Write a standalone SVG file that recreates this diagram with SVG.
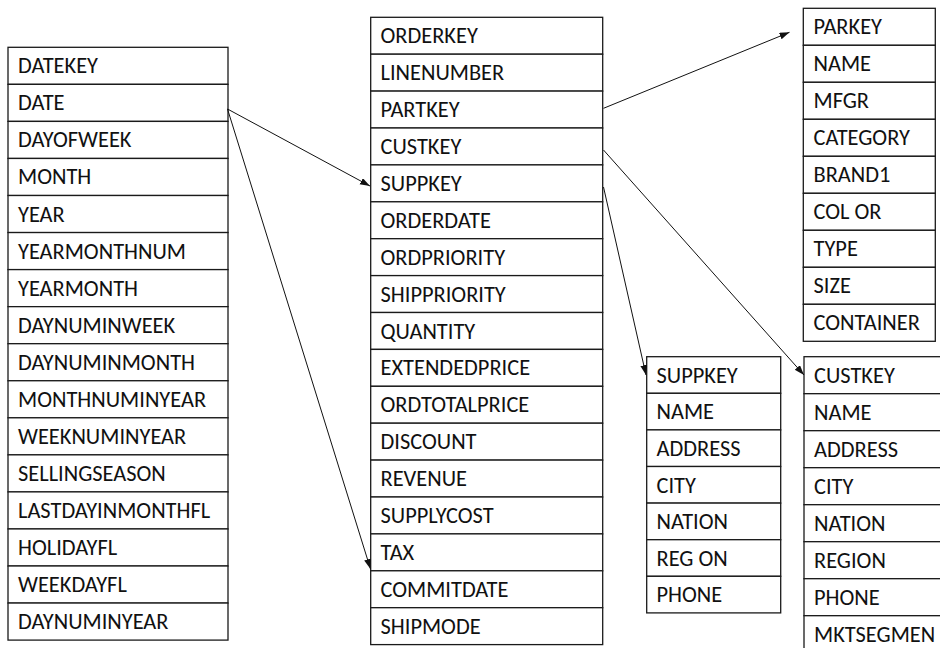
<svg xmlns="http://www.w3.org/2000/svg" width="940" height="648" viewBox="0 0 940 648">
<style>
.row{fill:#ffffff;stroke:#1a1a1a;stroke-width:1.3}
.t{font-family:Carlito,"Liberation Sans",Arial,sans-serif;font-size:22.4px;fill:#111}
.c{stroke:#111;stroke-width:1;fill:none;marker-end:url(#ah)}
</style>
<defs>
<marker id="ah" markerUnits="userSpaceOnUse" markerWidth="11" markerHeight="8" refX="10" refY="3.5" orient="auto">
<path d="M0,0 L10,3.5 L0,7 z" fill="#111"/>
</marker>
</defs>
<rect width="940" height="648" fill="#ffffff"/>
<g id="date">
<rect class="row" x="8" y="47.3" width="220" height="37.05"/><text class="t" x="18" y="73.3">DATEKEY</text>
<rect class="row" x="8" y="84.35" width="220" height="37.05"/><text class="t" x="18" y="110.35">DATE</text>
<rect class="row" x="8" y="121.4" width="220" height="37.05"/><text class="t" x="18" y="147.4">DAYOFWEEK</text>
<rect class="row" x="8" y="158.45" width="220" height="37.05"/><text class="t" x="18" y="184.45">MONTH</text>
<rect class="row" x="8" y="195.5" width="220" height="37.05"/><text class="t" x="18" y="221.5">YEAR</text>
<rect class="row" x="8" y="232.55" width="220" height="37.05"/><text class="t" x="18" y="258.55">YEARMONTHNUM</text>
<rect class="row" x="8" y="269.6" width="220" height="37.05"/><text class="t" x="18" y="295.6">YEARMONTH</text>
<rect class="row" x="8" y="306.65" width="220" height="37.05"/><text class="t" x="18" y="332.65">DAYNUMINWEEK</text>
<rect class="row" x="8" y="343.7" width="220" height="37.05"/><text class="t" x="18" y="369.7">DAYNUMINMONTH</text>
<rect class="row" x="8" y="380.75" width="220" height="37.05"/><text class="t" x="18" y="406.75">MONTHNUMINYEAR</text>
<rect class="row" x="8" y="417.8" width="220" height="37.05"/><text class="t" x="18" y="443.8">WEEKNUMINYEAR</text>
<rect class="row" x="8" y="454.85" width="220" height="37.05"/><text class="t" x="18" y="480.85">SELLINGSEASON</text>
<rect class="row" x="8" y="491.9" width="220" height="37.05"/><text class="t" x="18" y="517.9">LASTDAYINMONTHFL</text>
<rect class="row" x="8" y="528.95" width="220" height="37.05"/><text class="t" x="18" y="554.95">HOLIDAYFL</text>
<rect class="row" x="8" y="566" width="220" height="37.05"/><text class="t" x="18" y="592">WEEKDAYFL</text>
<rect class="row" x="8" y="603.05" width="220" height="37.05"/><text class="t" x="18" y="629.05">DAYNUMINYEAR</text>
</g>
<g id="lineorder">
<rect class="row" x="370.7" y="17.3" width="232" height="36.9"/><text class="t" x="380.5" y="43.3">ORDERKEY</text>
<rect class="row" x="370.7" y="54.2" width="232" height="36.9"/><text class="t" x="380.5" y="80.2">LINENUMBER</text>
<rect class="row" x="370.7" y="91.1" width="232" height="36.9"/><text class="t" x="380.5" y="117.1">PARTKEY</text>
<rect class="row" x="370.7" y="128" width="232" height="36.9"/><text class="t" x="380.5" y="154">CUSTKEY</text>
<rect class="row" x="370.7" y="164.9" width="232" height="36.9"/><text class="t" x="380.5" y="190.9">SUPPKEY</text>
<rect class="row" x="370.7" y="201.8" width="232" height="36.9"/><text class="t" x="380.5" y="227.8">ORDERDATE</text>
<rect class="row" x="370.7" y="238.7" width="232" height="36.9"/><text class="t" x="380.5" y="264.7">ORDPRIORITY</text>
<rect class="row" x="370.7" y="275.6" width="232" height="36.9"/><text class="t" x="380.5" y="301.6">SHIPPRIORITY</text>
<rect class="row" x="370.7" y="312.5" width="232" height="36.9"/><text class="t" x="380.5" y="338.5">QUANTITY</text>
<rect class="row" x="370.7" y="349.4" width="232" height="36.9"/><text class="t" x="380.5" y="375.4">EXTENDEDPRICE</text>
<rect class="row" x="370.7" y="386.3" width="232" height="36.9"/><text class="t" x="380.5" y="412.3">ORDTOTALPRICE</text>
<rect class="row" x="370.7" y="423.2" width="232" height="36.9"/><text class="t" x="380.5" y="449.2">DISCOUNT</text>
<rect class="row" x="370.7" y="460.1" width="232" height="36.9"/><text class="t" x="380.5" y="486.1">REVENUE</text>
<rect class="row" x="370.7" y="497" width="232" height="36.9"/><text class="t" x="380.5" y="523">SUPPLYCOST</text>
<rect class="row" x="370.7" y="533.9" width="232" height="36.9"/><text class="t" x="380.5" y="559.9">TAX</text>
<rect class="row" x="370.7" y="570.8" width="232" height="36.9"/><text class="t" x="380.5" y="596.8">COMMITDATE</text>
<rect class="row" x="370.7" y="607.7" width="232" height="36.9"/><text class="t" x="380.5" y="633.7">SHIPMODE</text>
</g>
<g id="part">
<rect class="row" x="803.3" y="8.3" width="132" height="37"/><text class="t" x="813.5" y="34.3">PARKEY</text>
<rect class="row" x="803.3" y="45.3" width="132" height="37"/><text class="t" x="813.5" y="71.3">NAME</text>
<rect class="row" x="803.3" y="82.3" width="132" height="37"/><text class="t" x="813.5" y="108.3">MFGR</text>
<rect class="row" x="803.3" y="119.3" width="132" height="37"/><text class="t" x="813.5" y="145.3">CATEGORY</text>
<rect class="row" x="803.3" y="156.3" width="132" height="37"/><text class="t" x="813.5" y="182.3">BRAND1</text>
<rect class="row" x="803.3" y="193.3" width="132" height="37"/><text class="t" x="813.5" y="219.3">COL OR</text>
<rect class="row" x="803.3" y="230.3" width="132" height="37"/><text class="t" x="813.5" y="256.3">TYPE</text>
<rect class="row" x="803.3" y="267.3" width="132" height="37"/><text class="t" x="813.5" y="293.3">SIZE</text>
<rect class="row" x="803.3" y="304.3" width="132" height="37"/><text class="t" x="813.5" y="330.3">CONTAINER</text>
</g>
<g id="supplier">
<rect class="row" x="646.7" y="356.7" width="134" height="36.6"/><text class="t" x="656.5" y="382.7">SUPPKEY</text>
<rect class="row" x="646.7" y="393.3" width="134" height="36.6"/><text class="t" x="656.5" y="419.3">NAME</text>
<rect class="row" x="646.7" y="429.9" width="134" height="36.6"/><text class="t" x="656.5" y="455.9">ADDRESS</text>
<rect class="row" x="646.7" y="466.5" width="134" height="36.6"/><text class="t" x="656.5" y="492.5">CITY</text>
<rect class="row" x="646.7" y="503.1" width="134" height="36.6"/><text class="t" x="656.5" y="529.1">NATION</text>
<rect class="row" x="646.7" y="539.7" width="134" height="36.6"/><text class="t" x="656.5" y="565.7">REG ON</text>
<rect class="row" x="646.7" y="576.3" width="134" height="36.6"/><text class="t" x="656.5" y="602.3">PHONE</text>
</g>
<g id="customer">
<rect class="row" x="804" y="356.7" width="150" height="37"/><text class="t" x="814" y="382.7">CUSTKEY</text>
<rect class="row" x="804" y="393.7" width="150" height="37"/><text class="t" x="814" y="419.7">NAME</text>
<rect class="row" x="804" y="430.7" width="150" height="37"/><text class="t" x="814" y="456.7">ADDRESS</text>
<rect class="row" x="804" y="467.7" width="150" height="37"/><text class="t" x="814" y="493.7">CITY</text>
<rect class="row" x="804" y="504.7" width="150" height="37"/><text class="t" x="814" y="530.7">NATION</text>
<rect class="row" x="804" y="541.7" width="150" height="37"/><text class="t" x="814" y="567.7">REGION</text>
<rect class="row" x="804" y="578.7" width="150" height="37"/><text class="t" x="814" y="604.7">PHONE</text>
<rect class="row" x="804" y="615.7" width="150" height="37"/><text class="t" x="814" y="641.7">MKTSEGMEN</text>
</g>
<g id="connectors">
<path class="c" d="M227.5 109 L370 186"/>
<path class="c" d="M227.5 109 L370.5 569"/>
<path class="c" d="M603.5 108.3 L789.5 32.3"/>
<path class="c" d="M603.5 150 L804 375"/>
<path class="c" d="M603.5 187 L646 375"/>
</g>
</svg>
